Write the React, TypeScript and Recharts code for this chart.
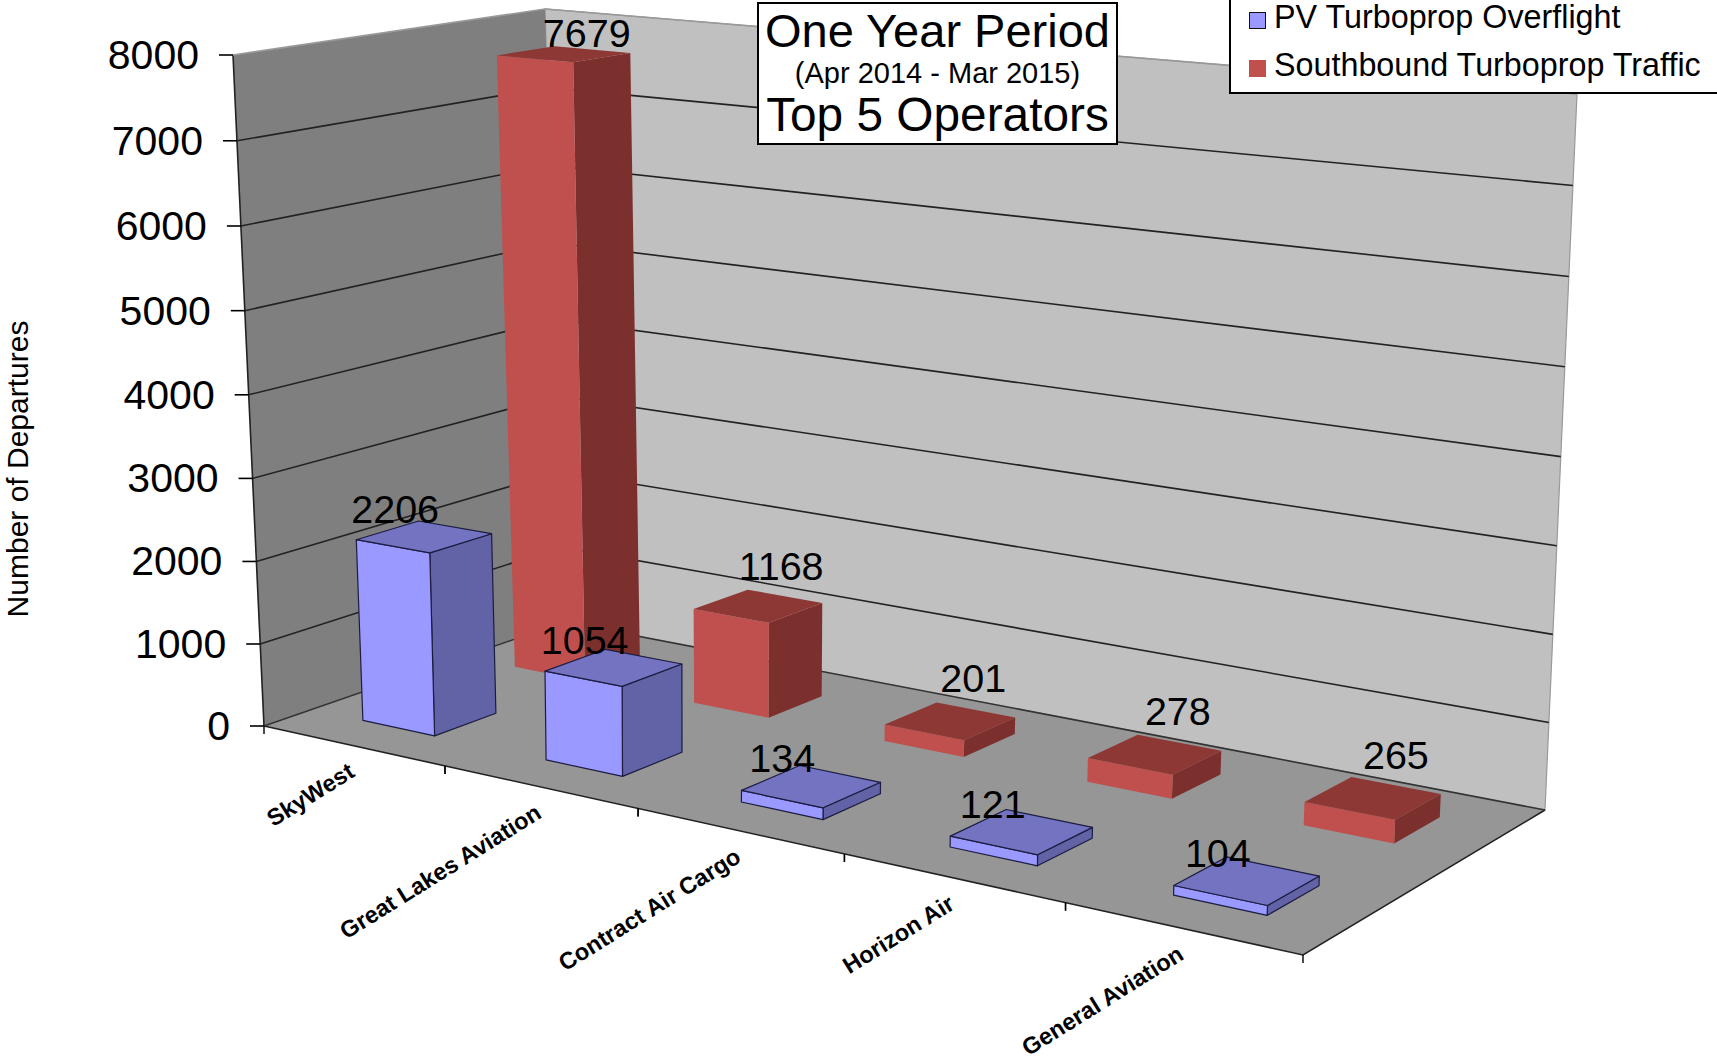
import { BarChart, Bar, XAxis, YAxis, CartesianGrid, LabelList, Legend } from 'recharts';

const W = 1717;
const H = 1058;

const operators = ['SkyWest', 'Great Lakes Aviation', 'Contract Air Cargo', 'Horizon Air', 'General Aviation'];
const pvOverflight = [2206, 1054, 134, 121, 104];
const southbound = [7679, 1168, 201, 278, 265];
const yTicks = [0, 1000, 2000, 3000, 4000, 5000, 6000, 7000, 8000];

const chartData = operators.map((name, i) => ({ name, pv: pvOverflight[i], south: southbound[i] }));

type Pt = [number, number];

// unit square -> quad (front-left, front-right, back-right, back-left)
function makeQuad(a: Pt, b: Pt, c: Pt, d: Pt) {
  const dx1 = b[0] - c[0], dx2 = d[0] - c[0], sx = a[0] - b[0] + c[0] - d[0];
  const dy1 = b[1] - c[1], dy2 = d[1] - c[1], sy = a[1] - b[1] + c[1] - d[1];
  const den = dx1 * dy2 - dx2 * dy1;
  const g = (sx * dy2 - dx2 * sy) / den;
  const h = (dx1 * sy - sx * dy1) / den;
  return (u: number, w: number): Pt => {
    const q = g * u + h * w + 1;
    return [
      ((b[0] - a[0] + g * b[0]) * u + (d[0] - a[0] + h * d[0]) * w + a[0]) / q,
      ((b[1] - a[1] + g * b[1]) * u + (d[1] - a[1] + h * d[1]) * w + a[1]) / q,
    ];
  };
}

const floorQuad = makeQuad([264, 726], [1303, 955], [1545, 810], [564, 622]);
const topQuad = makeQuad([233, 55], [1324, 154], [1577, 94], [545, 9]);

function project(u: number, v: number, w: number): Pt {
  const t = v / (v + (1 - v) * 1.026);
  const f = floorQuad(u, w);
  const c = topQuad(u, w);
  return [f[0] + (c[0] - f[0]) * t, f[1] + (c[1] - f[1]) * t];
}

const poly = (pts: Pt[]) => pts.map((p) => p[0].toFixed(1) + ',' + p[1].toFixed(1)).join(' ');

const rows = {
  pv: { du: -0.002, w0: 0.1475, w1: 0.346, front: '#9999ff', side: '#6262a6', top: '#7373c2', stroke: '#1c1c40', dx: -29, dy: -28, tall: 0 },
  south: { du: -0.001, w0: 0.646, w1: 0.841, front: '#c0504d', side: '#7c302e', top: '#8e3836', stroke: 'none', dx: 23, dy: -44, tall: 24 },
};

function Box3D(props: any) {
  const { x, width, height, row } = props;
  const r = rows[row as 'pv' | 'south'];
  const u0 = x / W + r.du;
  const u1 = (x + width) / W + r.du;
  const v = height / H;
  const sw = r.stroke === 'none' ? 0 : 1.2;
  return (
    <g stroke={r.stroke} strokeWidth={sw} strokeLinejoin="round">
      <polygon fill={r.side} points={poly([project(u1, 0, r.w0), project(u1, 0, r.w1), project(u1, v, r.w1), project(u1, v, r.w0)])} />
      <polygon fill={r.front} points={poly([project(u0, 0, r.w0), project(u1, 0, r.w0), project(u1, v, r.w0), project(u0, v, r.w0)])} />
      <polygon fill={r.top} points={poly([project(u0, v, r.w0), project(u1, v, r.w0), project(u1, v, r.w1), project(u0, v, r.w1)])} />
    </g>
  );
}

function BarValue(props: any) {
  const { row, value } = props;
  const box = props.viewBox ?? props;
  const r = rows[row as 'pv' | 'south'];
  const u = (box.x + box.width / 2) / W + r.du;
  const v = (H - box.y) / H;
  const p = project(u, v, (r.w0 + r.w1) / 2);
  return (
    <text x={p[0] + r.dx} y={p[1] + r.dy + v * r.tall} textAnchor="middle" dominantBaseline="central" fontSize={39.5} fill="#000">
      {value}
    </text>
  );
}

function GridLine(props: any) {
  const v = (H - props.y1) / H;
  if (v < 0.001) return <g key={props.key} />;
  const a = project(0, v, 0);
  const b = project(0, v, 1);
  const c = project(1, v, 1);
  return <polyline key={props.key} points={poly([a, b, c])} fill="none" stroke={v > 0.999 ? '#999' : '#222'} strokeWidth={1.6} />;
}

function YTick(props: any) {
  const v = (H - props.y) / H;
  const p = project(0, v, 0);
  return (
    <g>
      <line x1={p[0] - 14} y1={p[1]} x2={p[0]} y2={p[1]} stroke="#000" strokeWidth={1.6} />
      <text x={p[0] - 34} y={p[1]} textAnchor="end" dominantBaseline="central" fontSize={41} fill="#000">
        {props.payload.value}
      </text>
    </g>
  );
}

function XTick(props: any) {
  const band = W / operators.length;
  const u = props.x / W;
  const p = project(u, 0, 0);
  const left = project((props.x - band / 2) / W, 0, 0);
  const right = project((props.x + band / 2) / W, 0, 0);
  const tx = p[0] + 3;
  const ty = p[1] + 30;
  return (
    <g>
      <line x1={left[0]} y1={left[1]} x2={left[0]} y2={left[1] + 8} stroke="#000" strokeWidth={1.4} />
      <line x1={right[0]} y1={right[1]} x2={right[0]} y2={right[1] + 8} stroke="#000" strokeWidth={1.4} />
      <text x={tx} y={ty} textAnchor="end" fontSize={23.5} fontWeight="bold" fill="#000" transform={`rotate(-32 ${tx} ${ty})`}>
        {props.payload.value}
      </text>
    </g>
  );
}

function Walls() {
  const leftWall = [project(0, 0, 0), project(0, 0, 1), project(0, 1, 1), project(0, 1, 0)];
  const backWall = [project(0, 0, 1), project(1, 0, 1), project(1, 1, 1), project(0, 1, 1)];
  const floor = [project(0, 0, 0), project(1, 0, 0), project(1, 0, 1), project(0, 0, 1)];
  return (
    <svg width={W} height={H} style={{ position: 'absolute', left: 0, top: 0 }}>
      <polygon points={poly(backWall)} fill="#c0c0c0" stroke="#999" strokeWidth={1.2} />
      <polygon points={poly(leftWall)} fill="#7f7f7f" />
      <polygon points={poly(floor)} fill="#969696" />
      <line x1={leftWall[0][0]} y1={leftWall[0][1]} x2={leftWall[3][0]} y2={leftWall[3][1]} stroke="#222" strokeWidth={1.6} />
      <polyline points={poly([floor[0], floor[1], floor[2]])} fill="none" stroke="#222" strokeWidth={1.6} />
      <line x1={floor[3][0]} y1={floor[3][1]} x2={floor[2][0]} y2={floor[2][1]} stroke="#333" strokeWidth={1.6} />
      <line x1={floor[0][0]} y1={floor[0][1]} x2={floor[3][0]} y2={floor[3][1]} stroke="#333" strokeWidth={1.4} />
    </svg>
  );
}

function LegendBox(props: any) {
  return (
    <div
      style={{
        width: 488,
        height: 94,
        boxSizing: 'border-box',
        background: '#fff',
        border: '2px solid #000',
        borderTop: 'none',
        borderRight: 'none',
        position: 'relative',
        fontFamily: '"Liberation Sans", Arial, sans-serif',
        fontSize: 32.3,
      }}
    >
      {props.payload.map((item: any, i: number) => (
        <div key={item.value} style={{ position: 'absolute', left: 18, top: i === 0 ? 0 : 48, height: 34, lineHeight: '34px', whiteSpace: 'nowrap' }}>
          <span
            style={{
              display: 'inline-block',
              width: 17,
              height: 17,
              boxSizing: 'border-box',
              background: item.color,
              border: i === 0 ? '1.5px solid #111' : 'none',
              marginRight: 8,
              verticalAlign: -1,
            }}
          />
          {item.value}
        </div>
      ))}
    </div>
  );
}

export default function App() {
  return (
    <div style={{ position: 'absolute', left: 0, top: 0, width: W, height: H, background: '#fff', fontFamily: '"Liberation Sans", Arial, sans-serif' }}>
      <Walls />
      <div style={{ position: 'absolute', left: 0, top: 0 }}>
        <BarChart width={W} height={H} data={chartData} margin={{ top: 0, right: 0, bottom: -1, left: -1 }} barSize={137} barGap={-137}>
          <CartesianGrid horizontal={GridLine} vertical={false} />
          <XAxis dataKey="name" height={1} axisLine={false} tickLine={false} tick={XTick} interval={0} />
          <YAxis width={1} domain={[0, 8000]} ticks={yTicks} axisLine={false} tickLine={false} tick={YTick} interval={0} />
          <Legend
            content={LegendBox}
            wrapperStyle={{ position: 'absolute', left: 1229, top: 0, width: 488, height: 0, bottom: 'auto', overflow: 'visible' }}
          />
          <Bar
            dataKey="south"
            name="Southbound Turboprop Traffic"
            fill="#c0504d"
            isAnimationActive={false}
            shape={(p: any) => <Box3D {...p} row="south" />}
          >
            <LabelList dataKey="south" content={(p: any) => <BarValue {...p} row="south" />} />
          </Bar>
          <Bar
            dataKey="pv"
            name="PV Turboprop Overflight"
            fill="#9999ff"
            isAnimationActive={false}
            shape={(p: any) => <Box3D {...p} row="pv" />}
          >
            <LabelList dataKey="pv" content={(p: any) => <BarValue {...p} row="pv" />} />
          </Bar>
        </BarChart>
      </div>
      <div
        style={{
          position: 'absolute',
          left: 757,
          top: 2,
          width: 361,
          height: 143,
          boxSizing: 'border-box',
          border: '2px solid #000',
          background: '#fff',
          textAlign: 'center',
        }}
      >
        <div style={{ fontSize: 47, lineHeight: '52px', marginTop: 1 }}>One Year Period</div>
        <div style={{ fontSize: 29, lineHeight: '32px' }}>(Apr 2014 - Mar 2015)</div>
        <div style={{ fontSize: 47.8, lineHeight: '52px' }}>Top 5 Operators</div>
      </div>
      <div
        style={{
          position: 'absolute',
          left: 18,
          top: 469,
          fontSize: 30,
          whiteSpace: 'nowrap',
          transform: 'translate(-50%, -50%) rotate(-90deg)',
        }}
      >
        Number of Departures
      </div>
    </div>
  );
}
